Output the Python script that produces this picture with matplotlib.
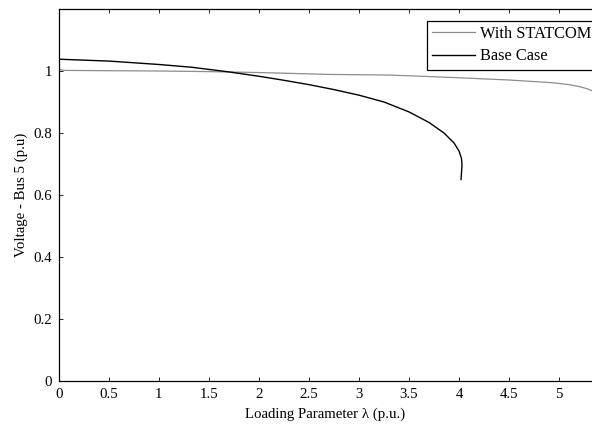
import matplotlib
matplotlib.use('Agg')
import matplotlib.pyplot as plt

# Loading parameter vs bus 5 voltage
lam_statcom = [0.0, 0.05, 0.5, 1.0, 1.5, 2.0, 2.7, 3.3, 3.94, 4.5, 4.94, 5.1, 5.2, 5.28, 5.33]
v_statcom = [1.005, 1.002, 1.001, 1.000, 0.998, 0.995, 0.989, 0.987, 0.979, 0.971, 0.962,
             0.956, 0.950, 0.943, 0.936]

lam_base = [0.0, 0.5, 1.0, 1.33, 1.7, 2.0, 2.25, 2.5, 2.75, 3.0, 3.25, 3.5, 3.7,
            3.85, 3.95, 4.0, 4.025, 4.03, 4.025, 4.02]
v_base = [1.038, 1.032, 1.021, 1.012, 0.997, 0.983, 0.970, 0.956, 0.940, 0.922, 0.900,
          0.868, 0.834, 0.800, 0.768, 0.742, 0.718, 0.695, 0.672, 0.650]

xticks = [0, 0.5, 1, 1.5, 2, 2.5, 3, 3.5, 4, 4.5, 5]
yticks = [0, 0.2, 0.4, 0.6, 0.8, 1]

plt.rcParams['font.family'] = ['Liberation Serif', 'DejaVu Serif']
plt.rcParams['font.size'] = 10.7

fig = plt.figure(figsize=(5.92, 4.25), dpi=100)
ax = fig.add_axes([59 / 592, 44 / 425, 533 / 592, 372 / 425])

ax.plot(lam_statcom, v_statcom, color='#8c8c8c', lw=0.9, label='With STATCOM')
ax.plot(lam_base, v_base, color='black', lw=1.0, label='Base Case')

ax.set_xlim(0, 5.33)
ax.set_ylim(0, 1.2)
ax.set_xticks(xticks)
ax.set_xticklabels(['0', '0.5', '1', '1.5', '2', '2.5', '3', '3.5', '4', '4.5', '5'])
ax.set_yticks(yticks)
ax.set_yticklabels(['0', '0.2', '0.4', '0.6', '0.8', '1'])
ax.tick_params(direction='in', top=True, right=False, length=3, width=0.6)
ax.tick_params(axis='x', pad=5)
ax.tick_params(axis='y', pad=5)
for s in ax.spines.values():
    s.set_linewidth(0.9)
ax.spines['right'].set_visible(False)

ax.set_xlabel('Loading Parameter λ (p.u.)', labelpad=4.5)
ax.set_ylabel('Voltage - Bus 5 (p.u)', labelpad=4)

leg = ax.legend(loc='upper right', bbox_to_anchor=(1.008, 0.968), fancybox=False,
                edgecolor='black', framealpha=1, borderpad=0.32, handlelength=2.6,
                handletextpad=0.28, labelspacing=0.38, borderaxespad=0,
                prop={'size': 11.8})
leg.get_frame().set_linewidth(0.9)

fig.savefig('out.png', dpi=100)
